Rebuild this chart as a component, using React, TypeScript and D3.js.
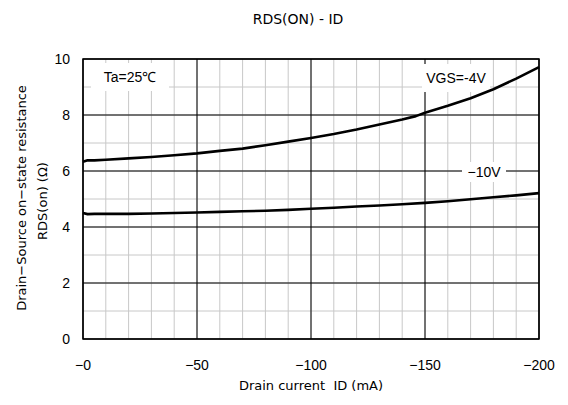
import * as d3 from "d3";
import { useEffect, useRef } from "react";
import * as React from "react";

// drain current (mA) sample positions
const currentVgs4: number[] = [0, -2, -5, -10, -20, -30, -40, -50, -60, -70, -80, -90, -100, -110, -120, -130, -140, -146, -150, -160, -170, -180, -190, -200];
const rdsVgs4: number[] = [6.33, 6.38, 6.38, 6.4, 6.45, 6.5, 6.56, 6.63, 6.72, 6.8, 6.92, 7.05, 7.18, 7.32, 7.48, 7.66, 7.84, 7.96, 8.08, 8.33, 8.6, 8.92, 9.3, 9.71];

const currentVgs10: number[] = [0, -2, -5, -10, -20, -30, -40, -50, -60, -70, -80, -90, -100, -110, -120, -130, -140, -150, -160, -170, -180, -190, -200];
const rdsVgs10: number[] = [4.5, 4.46, 4.47, 4.47, 4.47, 4.48, 4.5, 4.52, 4.54, 4.56, 4.58, 4.61, 4.65, 4.69, 4.73, 4.77, 4.81, 4.86, 4.92, 4.99, 5.06, 5.13, 5.21];

const xTicks: number[] = [0, -50, -100, -150, -200];
const yTicks: number[] = [0, 2, 4, 6, 8, 10];

const App: React.FC = () => {
  const ref = useRef<SVGSVGElement>(null);

  useEffect(() => {
    const width = 568;
    const height = 405;
    const margin = { top: 59, right: 29, bottom: 66, left: 83 };

    const svg = d3.select(ref.current);
    svg.selectAll("*").remove();

    const x = d3.scaleLinear().domain([0, -200]).range([margin.left, width - margin.right]);
    const y = d3.scaleLinear().domain([0, 10]).range([height - margin.bottom, margin.top]);

    const tickFont = "'Liberation Sans', Arial, sans-serif";
    const labelFont = "'DejaVu Sans', 'Liberation Sans', sans-serif";

    // minor grid
    const grid = svg.append("g");
    grid
      .selectAll("line.vx")
      .data(x.ticks(20))
      .enter()
      .append("line")
      .attr("x1", (d) => x(d))
      .attr("x2", (d) => x(d))
      .attr("y1", y(0))
      .attr("y2", y(10))
      .attr("stroke", "#c8c8c8")
      .attr("stroke-width", 1);
    grid
      .selectAll("line.hy")
      .data(y.ticks(10))
      .enter()
      .append("line")
      .attr("x1", x(0))
      .attr("x2", x(-200))
      .attr("y1", (d) => y(d))
      .attr("y2", (d) => y(d))
      .attr("stroke", "#c8c8c8")
      .attr("stroke-width", 1);

    // major grid
    grid
      .selectAll("line.mx")
      .data(xTicks)
      .enter()
      .append("line")
      .attr("x1", (d) => x(d))
      .attr("x2", (d) => x(d))
      .attr("y1", y(0))
      .attr("y2", y(10))
      .attr("stroke", "#000")
      .attr("stroke-width", 1);
    grid
      .selectAll("line.my")
      .data(yTicks)
      .enter()
      .append("line")
      .attr("x1", x(0))
      .attr("x2", x(-200))
      .attr("y1", (d) => y(d))
      .attr("y2", (d) => y(d))
      .attr("stroke", "#000")
      .attr("stroke-width", 1);

    // annotation boxes hide the grid behind text
    const notes = [
      { text: "Ta=25℃", cx: 130, cy: 77, w: 78, h: 28 },
      { text: "VGS=-4V", cx: 456, cy: 78, w: 68, h: 28 },
      { text: "−10V", cx: 484, cy: 172, w: 44, h: 20 },
    ];
    svg
      .selectAll("rect.note")
      .data(notes)
      .enter()
      .append("rect")
      .attr("x", (d) => d.cx - d.w / 2)
      .attr("y", (d) => d.cy - d.h / 2)
      .attr("width", (d) => d.w)
      .attr("height", (d) => d.h)
      .attr("fill", "#fff");
    svg
      .selectAll("text.note")
      .data(notes)
      .enter()
      .append("text")
      .attr("x", (d) => d.cx)
      .attr("y", (d) => d.cy)
      .attr("text-anchor", "middle")
      .attr("dominant-baseline", "central")
      .attr("font-family", tickFont)
      .attr("font-size", 14)
      .text((d) => d.text);

    // frame
    svg
      .append("rect")
      .attr("x", x(0))
      .attr("y", y(10))
      .attr("width", x(-200) - x(0))
      .attr("height", y(0) - y(10))
      .attr("fill", "none")
      .attr("stroke", "#000")
      .attr("stroke-width", 1.5);

    // curves
    const line = d3
      .line<[number, number]>()
      .x((d) => x(d[0]))
      .y((d) => y(d[1]));
    const series = [
      d3.zip(currentVgs4, rdsVgs4) as [number, number][],
      d3.zip(currentVgs10, rdsVgs10) as [number, number][],
    ];
    svg
      .selectAll("path.curve")
      .data(series)
      .enter()
      .append("path")
      .attr("d", (d) => line(d))
      .attr("fill", "none")
      .attr("stroke", "#000")
      .attr("stroke-width", 2.6)
      .attr("stroke-linejoin", "round");

    // tick labels
    svg
      .selectAll("text.xt")
      .data(xTicks)
      .enter()
      .append("text")
      .attr("x", (d) => x(d))
      .attr("y", 365)
      .attr("text-anchor", "middle")
      .attr("dominant-baseline", "central")
      .attr("font-family", tickFont)
      .attr("font-size", 14)
      .text((d) => "−" + Math.abs(d));
    svg
      .selectAll("text.yt")
      .data(yTicks)
      .enter()
      .append("text")
      .attr("x", 70)
      .attr("y", (d) => y(d))
      .attr("text-anchor", "end")
      .attr("dominant-baseline", "central")
      .attr("font-family", tickFont)
      .attr("font-size", 14)
      .text((d) => String(d));

    // titles
    svg
      .append("text")
      .attr("x", 298)
      .attr("y", 19)
      .attr("text-anchor", "middle")
      .attr("dominant-baseline", "central")
      .attr("font-family", labelFont)
      .attr("font-size", 14)
      .text("RDS(ON) - ID");
    svg
      .append("text")
      .attr("x", 311)
      .attr("y", 385)
      .attr("text-anchor", "middle")
      .attr("dominant-baseline", "central")
      .attr("font-family", labelFont)
      .attr("font-size", 13)
      .style("white-space", "pre")
      .text("Drain current  ID (mA)");
    const yLabel = svg.append("g").attr("transform", "translate(21,198) rotate(-90)");
    yLabel
      .append("text")
      .attr("text-anchor", "middle")
      .attr("dominant-baseline", "central")
      .attr("font-family", labelFont)
      .attr("font-size", 13)
      .text("Drain−Source on−state resistance");
    yLabel
      .append("text")
      .attr("y", 21)
      .attr("x", -3)
      .attr("text-anchor", "middle")
      .attr("dominant-baseline", "central")
      .attr("font-family", labelFont)
      .attr("font-size", 13)
      .style("white-space", "pre")
      .text("RDS(on) (Ω)");
  });

  return (
    <svg
      ref={ref}
      width={568}
      height={405}
      style={{ position: "absolute", left: 0, top: 0, background: "#fff" }}
    />
  );
};

export default App;
